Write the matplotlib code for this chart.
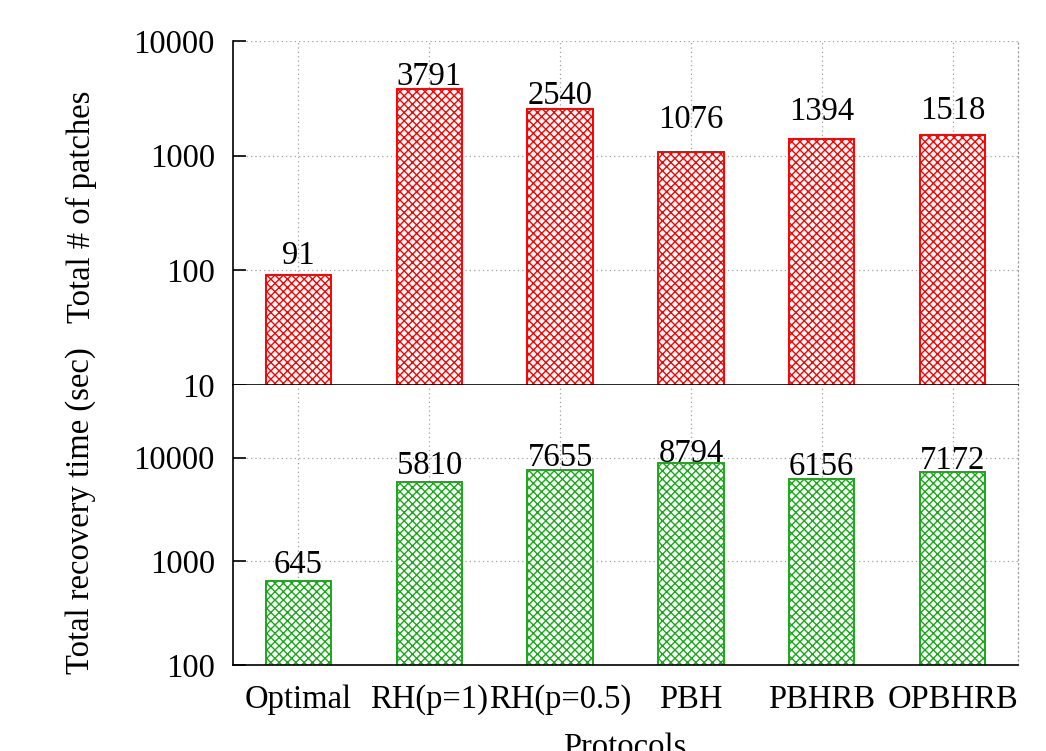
import numpy as np
import matplotlib
matplotlib.use('Agg')
import matplotlib.pyplot as plt

# DADOS
protocols = ['Optimal', 'RH(p=1)', 'RH(p=0.5)', 'PBH', 'PBHRB', 'OPBHRB']
patches = [91, 3791, 2540, 1076, 1394, 1518]
recovery = [645, 5810, 7655, 8794, 6156, 7172]

# deslocamento dos rotulos acima das barras (px)
off_top = [19, 13, 13, 32, 27, 24]
off_bot = [16, 16, 12, 10, 13, 12]

RED = '#ff0000'
GREEN = '#1aa81a'
FS = 23.5

plt.rcParams['font.family'] = ['Liberation Serif', 'DejaVu Serif']
plt.rcParams['hatch.linewidth'] = 1.0

fig = plt.figure(figsize=(10.46, 7.51), dpi=100)
L, W = 233 / 1046, (1018 - 233) / 1046
ax1 = fig.add_axes([L, 1 - 385 / 751, W, 344 / 751])
ax2 = fig.add_axes([L, 1 - 665 / 751, W, 280 / 751])

x = np.arange(len(protocols))


def style(ax, ylim):
    ax.set_yscale('log')
    ax.set_ylim(*ylim)
    ax.set_xlim(-0.5, 5.5)
    ax.set_xticks(x)
    ax.yaxis.set_minor_locator(matplotlib.ticker.NullLocator())
    ax.yaxis.set_major_formatter(matplotlib.ticker.FuncFormatter(lambda v, p: f"{v:g}"))
    ax.tick_params(axis='y', direction='in', length=9, width=1.2, pad=13,
                   labelsize=FS)
    ax.tick_params(axis='x', length=0, pad=14, labelsize=FS)
    ax.grid(True, color='#a0a0a0', linestyle=(0, (1, 2.5)), linewidth=0.9)
    ax.set_axisbelow(True)
    ax.spines['top'].set_visible(False)
    ax.spines['right'].set_color('#a0a0a0')
    ax.spines['right'].set_linestyle((0, (1, 2.5)))
    ax.spines['right'].set_linewidth(0.9)
    ax.spines['left'].set_linewidth(1.2)
    ax.spines['bottom'].set_linewidth(1.2)


style(ax1, (10, 10000))
style(ax2, (100, 50000))
ax2.set_yticks([100, 1000, 10000])
ax1.set_yticks([10, 100, 1000, 10000])
ax1.tick_params(axis='x', labelbottom=False)
ax2.set_xticklabels(protocols)

for ax, vals, col, offs in [(ax1, patches, RED, off_top),
                            (ax2, recovery, GREEN, off_bot)]:
    ax.bar(x, vals, width=0.5, facecolor='white', edgecolor=col,
           hatch='xxxx', linewidth=1.4, zorder=2)
    for xi, v, o in zip(x, vals, offs):
        ax.annotate(str(v), (xi, v), xytext=(0, o * 0.72),
                    textcoords='offset points', ha='center', va='center',
                    fontsize=FS, zorder=3)

fig.text(81 / 1046, 1 - 207 / 751, 'Total # of patches', rotation=90,
         ha='center', va='center', fontsize=FS)
fig.text(81 / 1046, 1 - 511 / 751, 'Total recovery time (sec)', rotation=90,
         ha='center', va='center', fontsize=FS)
fig.text(625 / 1046, 1 - 733 / 751, 'Protocols', ha='center', va='top',
         fontsize=FS)

fig.savefig('out.png', dpi=100)
